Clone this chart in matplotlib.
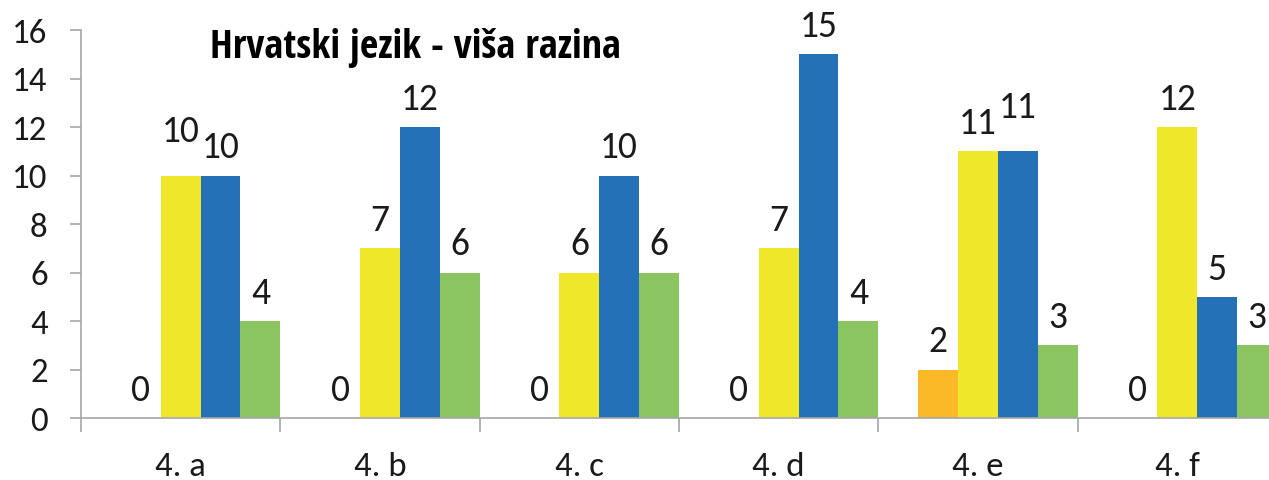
import matplotlib
matplotlib.use('Agg')
import matplotlib.pyplot as plt
import numpy as np

categories = ['4. a', '4. b', '4. c', '4. d', '4. e', '4. f']
orange = [0, 0, 0, 0, 2, 0]
yellow = [10, 7, 6, 7, 11, 12]
blue = [10, 12, 10, 15, 11, 5]
green = [4, 6, 6, 4, 3, 3]
series = [orange, yellow, blue, green]
colors = ['#FBB827', '#EFE82A', '#2471B7', '#8BC562']
title = 'Hrvatski jezik - viša razina'

# (group, series) -> extra lift of the value label, in points (overlapping labels)
labelNudge = {(0, 1): 12, (4, 2): 12}

plt.rcParams['font.family'] = ['Carlito', 'Open Sans', 'DejaVu Sans']

fig = plt.figure(figsize=(12.69, 4.81), dpi=100)
ax = fig.add_axes([81 / 1269, 62 / 481, 1196 / 1269, 388 / 481])

barWidth = 0.2
x = np.arange(len(categories))
for j, (values, color) in enumerate(zip(series, colors)):
    lefts = x + 0.2 + barWidth * j
    ax.bar(lefts, values, width=barWidth, align='edge', color=color, linewidth=0)
    for i, (left, value) in enumerate(zip(lefts, values)):
        dy = 13 + labelNudge.get((i, j), 0)
        ax.annotate(str(value), (left + barWidth / 2, value), xytext=(0, dy),
                    textcoords='offset points', ha='center', va='baseline',
                    fontsize=27, color='#1a1a1a', annotation_clip=False)

ax.set_xlim(0, len(categories))
ax.set_ylim(0, 16)
ax.set_yticks(range(0, 17, 2))

ax.set_xticks(range(len(categories) + 1))
ax.set_xticklabels([])
ax.set_xticks(x + 0.5, minor=True)
ax.set_xticklabels(categories, minor=True)

for side in ['top', 'right']:
    ax.spines[side].set_visible(False)
for side in ['left', 'bottom']:
    ax.spines[side].set_color('#a6a6a6')
    ax.spines[side].set_linewidth(1.2)

ax.tick_params(axis='y', length=8, width=1.2, color='#a6a6a6', pad=16, labelsize=25, labelcolor='#1a1a1a')
ax.tick_params(axis='x', which='major', length=10, width=1.2, color='#a6a6a6')
ax.tick_params(axis='x', which='minor', length=0, pad=24, labelsize=25, labelcolor='#1a1a1a')

fig.text(210 / 1269, 1 - 58 / 481, title, fontsize=29, fontweight='bold',
         family=['Open Sans Condensed', 'Roboto Condensed', 'DejaVu Sans'],
         va='baseline', ha='left', color='black')

fig.savefig('out.png', dpi=100)
